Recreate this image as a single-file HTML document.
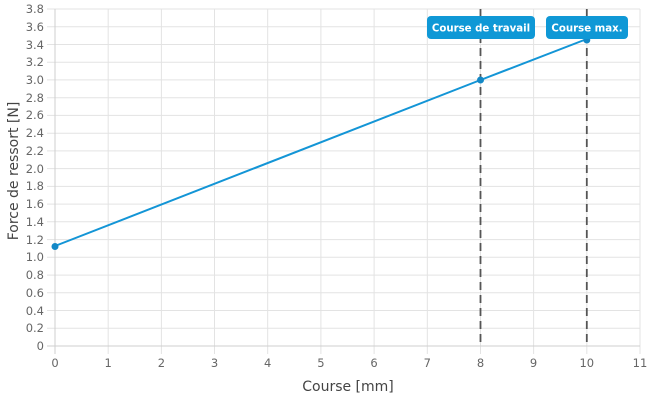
<!DOCTYPE html>
<html><head><meta charset="utf-8"><style>
html,body{margin:0;padding:0;background:#fff;}
svg{display:block;font-family:"DejaVu Sans",sans-serif;}
</style></head><body>
<svg width="650" height="400" viewBox="0 0 650 400">
<g stroke="#e3e3e3" stroke-width="1">
<line x1="47" x2="640" y1="328.3" y2="328.3"/><line x1="47" x2="640" y1="310.5" y2="310.5"/>
<line x1="47" x2="640" y1="292.8" y2="292.8"/><line x1="47" x2="640" y1="275.1" y2="275.1"/>
<line x1="47" x2="640" y1="257.3" y2="257.3"/><line x1="47" x2="640" y1="239.6" y2="239.6"/>
<line x1="47" x2="640" y1="221.8" y2="221.8"/><line x1="47" x2="640" y1="204.1" y2="204.1"/>
<line x1="47" x2="640" y1="186.4" y2="186.4"/><line x1="47" x2="640" y1="168.6" y2="168.6"/>
<line x1="47" x2="640" y1="150.9" y2="150.9"/><line x1="47" x2="640" y1="133.2" y2="133.2"/>
<line x1="47" x2="640" y1="115.4" y2="115.4"/><line x1="47" x2="640" y1="97.7" y2="97.7"/>
<line x1="47" x2="640" y1="79.9" y2="79.9"/><line x1="47" x2="640" y1="62.2" y2="62.2"/>
<line x1="47" x2="640" y1="44.5" y2="44.5"/><line x1="47" x2="640" y1="26.7" y2="26.7"/>
<line x1="47" x2="640" y1="9" y2="9"/>
<line x1="108.2" x2="108.2" y1="9" y2="354"/><line x1="161.4" x2="161.4" y1="9" y2="354"/>
<line x1="214.5" x2="214.5" y1="9" y2="354"/><line x1="267.7" x2="267.7" y1="9" y2="354"/>
<line x1="320.9" x2="320.9" y1="9" y2="354"/><line x1="374.1" x2="374.1" y1="9" y2="354"/>
<line x1="427.3" x2="427.3" y1="9" y2="354"/><line x1="480.5" x2="480.5" y1="9" y2="354"/>
<line x1="533.6" x2="533.6" y1="9" y2="354"/><line x1="586.8" x2="586.8" y1="9" y2="354"/>
<line x1="640" x2="640" y1="9" y2="354"/>
</g>
<g stroke="#cfcfcf"><line x1="47" x2="640" y1="346" y2="346"/><line x1="55" x2="55" y1="9" y2="354"/></g>
<g fill="#666" font-size="11.5" text-anchor="end">
<text x="44" y="350">0</text><text x="44" y="332">0.2</text><text x="44" y="315">0.4</text>
<text x="44" y="297">0.6</text><text x="44" y="279">0.8</text><text x="44" y="261">1.0</text>
<text x="44" y="244">1.2</text><text x="44" y="226">1.4</text><text x="44" y="208">1.6</text>
<text x="44" y="190">1.8</text><text x="44" y="173">2.0</text><text x="44" y="155">2.2</text>
<text x="44" y="137">2.4</text><text x="44" y="119">2.6</text><text x="44" y="102">2.8</text>
<text x="44" y="84">3.0</text><text x="44" y="66">3.2</text><text x="44" y="49">3.4</text>
<text x="44" y="31">3.6</text><text x="44" y="13">3.8</text>
</g>
<g fill="#666" font-size="11.5" text-anchor="middle">
<text x="55" y="367">0</text><text x="108.2" y="367">1</text><text x="161.4" y="367">2</text>
<text x="214.5" y="367">3</text><text x="267.7" y="367">4</text><text x="320.9" y="367">5</text>
<text x="374.1" y="367">6</text><text x="427.3" y="367">7</text><text x="480.5" y="367">8</text>
<text x="533.6" y="367">9</text><text x="586.8" y="367">10</text><text x="640" y="367">11</text>
</g>
<text x="348" y="391" font-size="14" fill="#444" text-anchor="middle">Course [mm]</text>
<text transform="translate(18,171) rotate(-90)" font-size="14" fill="#444" text-anchor="middle">Force de ressort [N]</text>
<g stroke="#555" stroke-width="1.8" stroke-dasharray="8,5">
<line x1="480.5" x2="480.5" y1="9" y2="346"/><line x1="586.8" x2="586.8" y1="9" y2="346"/>
</g>
<polyline points="55,246 480.5,80 586.8,39" fill="none" stroke="#1395d6" stroke-width="2"/>
<circle cx="55" cy="246.5" r="3.5" fill="#1388c6"/>
<circle cx="480.5" cy="80" r="3.5" fill="#1388c6"/>
<circle cx="586.8" cy="40" r="3.5" fill="#1388c6"/>
<rect x="427" y="16" width="108" height="23" rx="4" fill="#0f98d6"/>
<text x="481" y="31.5" font-size="10.2" font-weight="bold" fill="#fff" text-anchor="middle">Course de travail</text>
<rect x="546" y="16" width="82" height="23" rx="4" fill="#0f98d6"/>
<text x="587" y="31.5" font-size="10.2" font-weight="bold" fill="#fff" text-anchor="middle">Course max.</text>
</svg>
</body></html>
